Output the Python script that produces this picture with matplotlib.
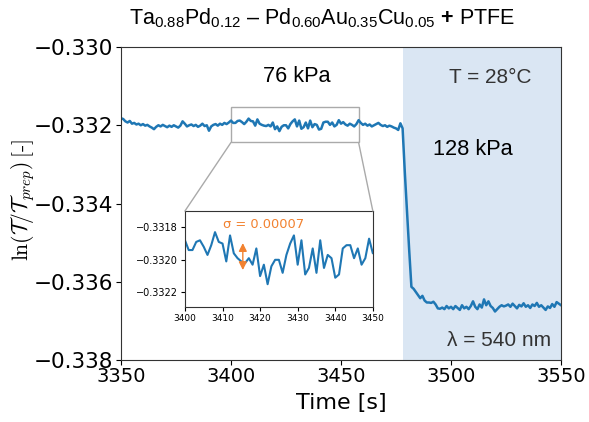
import numpy as np
import matplotlib.pyplot as plt
from matplotlib.patches import ConnectionPatch

plt.rcParams['mathtext.fontset'] = 'custom'
plt.rcParams['mathtext.rm'] = 'Liberation Sans'
plt.rcParams['mathtext.it'] = 'Liberation Sans:italic'
plt.rcParams['mathtext.bf'] = 'Liberation Sans:bold'

# ln(T/T_prep) sampled every second, 3350 s .. 3550 s
t = np.arange(3350, 3551)
v_76kpa_a = [-0.33182, -0.33184, -0.33190, -0.33193, -0.33189, -0.33196, -0.33194, -0.33198, -0.33196, -0.33200,
             -0.33197, -0.33201, -0.33199, -0.33203, -0.33206, -0.33210, -0.33204, -0.33200, -0.33203, -0.33199,
             -0.33202, -0.33205, -0.33201, -0.33204, -0.33200, -0.33203, -0.33206, -0.33201, -0.33190, -0.33196,
             -0.33203, -0.33200, -0.33198, -0.33202, -0.33199, -0.33204, -0.33201, -0.33196, -0.33202, -0.33200,
             -0.33214, -0.33203, -0.33199, -0.33197, -0.33201, -0.33196, -0.33199, -0.33194, -0.33197, -0.33193]
# 3400 .. 3450, also shown in the zoomed inset
v_76kpa_zoom = [-0.33188, -0.33194, -0.33194, -0.33189, -0.33188, -0.33192, -0.33197, -0.33191, -0.33183, -0.33189,
                -0.33190, -0.33201, -0.33185, -0.33196, -0.33199, -0.33201, -0.33202, -0.33199, -0.33203, -0.33193,
                -0.33210, -0.33203, -0.33215, -0.33204, -0.33200, -0.33200, -0.33208, -0.33197, -0.33190, -0.33185,
                -0.33203, -0.33188, -0.33209, -0.33205, -0.33193, -0.33208, -0.33188, -0.33205, -0.33197, -0.33199,
                -0.33211, -0.33209, -0.33193, -0.33191, -0.33191, -0.33199, -0.33193, -0.33203, -0.33199, -0.33187,
                -0.33196]
v_76kpa_b = [-0.33192, -0.33198, -0.33201, -0.33196, -0.33199, -0.33203, -0.33197, -0.33187, -0.33194, -0.33199,
             -0.33196, -0.33201, -0.33198, -0.33203, -0.33200, -0.33197, -0.33194, -0.33199, -0.33202, -0.33200,
             -0.33204, -0.33201, -0.33203, -0.33206, -0.33208, -0.33212, -0.33195, -0.33208]
v_128kpa = [-0.33320, -0.33420, -0.33520, -0.33613, -0.33618, -0.33626, -0.33634, -0.33642, -0.33636, -0.33648,
            -0.33653, -0.33653, -0.33654, -0.33651, -0.33658, -0.33668, -0.33669, -0.33666, -0.33670, -0.33662,
            -0.33668, -0.33664, -0.33670, -0.33662, -0.33667, -0.33672, -0.33660, -0.33668, -0.33664, -0.33670,
            -0.33662, -0.33650, -0.33664, -0.33670, -0.33658, -0.33666, -0.33645, -0.33660, -0.33650, -0.33662,
            -0.33667, -0.33676, -0.33670, -0.33664, -0.33660, -0.33663, -0.33661, -0.33658, -0.33664, -0.33656,
            -0.33662, -0.33668, -0.33659, -0.33663, -0.33655, -0.33664, -0.33660, -0.33667, -0.33658, -0.33662,
            -0.33654, -0.33664, -0.33660, -0.33666, -0.33672, -0.33663, -0.33667, -0.33657, -0.33664, -0.33652,
            -0.33656, -0.33660]
v = np.array(v_76kpa_a + v_76kpa_zoom + v_76kpa_b + v_128kpa)

t_switch = 3478
sigma = 0.00007


def minus_fmt(digits):
    return plt.FuncFormatter(lambda x, pos: f'{x:.{digits}f}'.replace('-', '\u2212'))


fig = plt.figure(figsize=(5.89, 4.22), dpi=100)
ax = fig.add_axes([0.2054, 0.1469, 0.7471, 0.7417])
ax.axvspan(t_switch, 3550, color='#dae6f3', lw=0)
ax.plot(t, v, color='#1f77b4', lw=1.8)
ax.set_xlim(3350, 3550)
ax.set_ylim(-0.338, -0.330)
ax.set_xticks([3350, 3400, 3450, 3500, 3550])
ax.set_yticks([-0.338, -0.336, -0.334, -0.332, -0.330])
ax.yaxis.set_major_formatter(minus_fmt(3))
ax.tick_params(axis='x', labelsize=14, pad=1.5)
ax.tick_params(axis='y', labelsize=15.5, pad=2)
for s in ax.spines.values():
    s.set_color('#333333')
ax.set_xlabel('Time [s]', fontsize=16, labelpad=5)
ax.set_ylabel(r'$\ln(\mathcal{T}/\mathcal{T}_{prep})\,\text{[-]}$', fontsize=15.5, math_fontfamily='cm')
ax.yaxis.set_label_coords(-0.19, 0.51)
ax.set_title(r'Ta$_{0.88}$Pd$_{0.12}$ – Pd$_{0.60}$Au$_{0.35}$Cu$_{0.05}$ $\mathbf{+}$ PTFE',
             fontsize=15.5, family='Liberation Sans', x=0.457, pad=16)

txt = dict(family='Liberation Sans', ha='center', va='center')
ax.text(3430, -0.33075, '76 kPa', color='black', fontsize=15.7, **txt)
ax.text(3510, -0.33261, '128 kPa', color='black', fontsize=15.7, **txt)
ax.text(3518, -0.33078, 'T = 28°C', color='#333333', fontsize=15, **txt)
ax.text(3522, -0.33749, 'λ = 540 nm', color='#333333', fontsize=15, **txt)

# zoom window on the 76 kPa plateau
rx0, rx1, ry0, ry1 = 3400, 3458, -0.33244, -0.33154
ax.add_patch(plt.Rectangle((rx0, ry0), rx1 - rx0, ry1 - ry0, fill=False, ec='#aaaaaa', lw=1))

axins = fig.add_axes([0.314, 0.2725, 0.319, 0.2275])
axins.plot(t, v, color='#1f77b4', lw=1.5)
axins.set_xlim(3400, 3450)
axins.set_ylim(-0.33229, -0.33170)
axins.set_xticks([3400, 3410, 3420, 3430, 3440, 3450])
axins.set_yticks([-0.3322, -0.3320, -0.3318])
axins.yaxis.set_major_formatter(minus_fmt(4))
axins.tick_params(axis='x', labelsize=6.5, length=3, pad=2)
axins.tick_params(axis='y', labelsize=7, length=3, pad=2)
for s in axins.spines.values():
    s.set_color('#333333')
axins.annotate('', xy=(3415.4, -0.33188), xytext=(3415.4, -0.33208),
               arrowprops=dict(arrowstyle='<|-|>', color='#f28230', lw=1, mutation_scale=12))
axins.text(3410, -0.33178, f'σ = {sigma:.5f}', color='#f28230', fontsize=9.4,
           family='DejaVu Sans', va='center')

# connector lines from the window to the inset
for (xa, xb) in [(rx0, 0), (rx1, 1)]:
    con = ConnectionPatch(xyA=(xa, ry0), coordsA=ax.transData,
                          xyB=(xb, 1), coordsB=axins.transAxes, color='#aaaaaa', lw=1)
    fig.add_artist(con)

fig.savefig('out.png', dpi=100)
